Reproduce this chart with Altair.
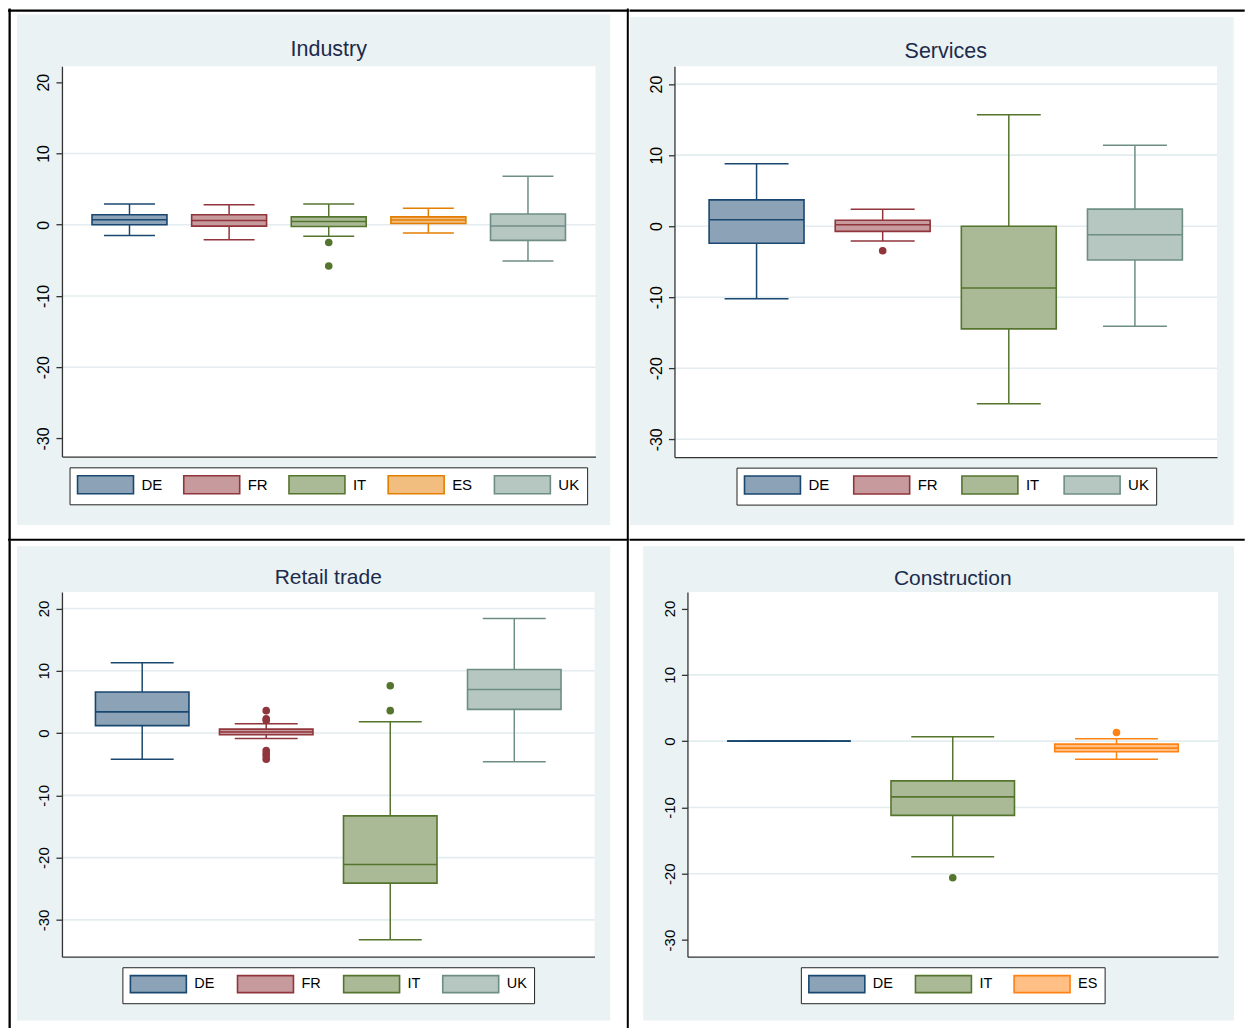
import altair as alt
import pandas as pd

# ---------------------------------------------------------------- data
TITLES = ["Industry", "Services", "Retail trade", "Construction"]

IND_COUNTRIES = ["DE", "FR", "IT", "ES", "UK"]
IND_LO = [-1.5, -2.1, -1.6, -1.15, -5.1]
IND_Q1 = [0.0, -0.2, -0.25, 0.17, -2.2]
IND_MED = [0.7, 0.6, 0.45, 0.67, -0.17]
IND_Q3 = [1.4, 1.4, 1.1, 1.1, 1.5]
IND_HI = [2.9, 2.8, 2.9, 2.3, 6.8]
IND_OUT_C = ["IT", "IT"]
IND_OUT_V = [-2.5, -5.8]

SRV_COUNTRIES = ["DE", "FR", "IT", "UK"]
SRV_LO = [-10.2, -2.1, -25.0, -14.1]
SRV_Q1 = [-2.4, -0.73, -14.45, -4.75]
SRV_MED = [0.9, 0.2, -8.7, -1.2]
SRV_Q3 = [3.7, 0.83, 0.0, 2.4]
SRV_HI = [8.8, 2.4, 15.7, 11.4]
SRV_OUT_C = ["FR"]
SRV_OUT_V = [-3.45]

RET_COUNTRIES = ["DE", "FR", "IT", "UK"]
RET_LO = [-4.2, -0.87, -33.2, -4.6]
RET_Q1 = [1.2, -0.27, -24.1, 3.8]
RET_MED = [3.4, 0.16, -21.1, 7.0]
RET_Q3 = [6.6, 0.64, -13.3, 10.2]
RET_HI = [11.3, 1.5, 1.8, 18.4]
RET_OUT_C = ["FR", "FR", "FR", "FR", "FR", "FR", "FR", "IT", "IT"]
RET_OUT_V = [3.6, 2.3, 2.0, -2.8, -3.3, -3.7, -4.2, 7.6, 3.6]

CON_COUNTRIES = ["DE", "IT", "ES"]
CON_LO = [0.0, -17.45, -2.75]
CON_Q1 = [0.0, -11.2, -1.6]
CON_MED = [0.0, -8.4, -1.05]
CON_Q3 = [0.0, -6.0, -0.45]
CON_HI = [0.0, 0.65, 0.35]
CON_OUT_C = ["IT", "ES"]
CON_OUT_V = [-20.6, 1.3]

Y_TICKS = [20, 10, 0, -10, -20, -30]
GRID_FULL = [20, 10, 0, -10, -20, -30]
GRID_INNER = [10, 0, -10, -20]

# ---------------------------------------------------------------- styles
FONT = "Liberation Sans, Arial, sans-serif"
PANEL_BG = "#eaf2f3"
GRID_COLOR = "#e3ecef"
TITLE_COLOR = "#1c2b4c"
AXIS_COLOR = "#333333"

LINE = {"DE": "#1a476f", "FR": "#90353b", "IT": "#55752f", "ES": "#e37e00", "UK": "#6e8e84"}
FILL = {"DE": "#8ca3b7", "FR": "#c79a9d", "IT": "#aaba97", "ES": "#f1be7f", "UK": "#b6c6c1"}
LINE_CON = dict(LINE, ES="#ff8214")
FILL_CON = dict(FILL, ES="#ffbf85")


def swatch_path(r, width):
    # wide rectangular legend key, left edge at -r, height 2r
    right = (width - r) / r
    return f"M-1,-1H{right:.4f}V1H-1Z"


def rect_layer(src, box, color):
    x0, x1, y0, y1 = box
    return alt.Chart(src).mark_rect(fill=color, strokeWidth=0).encode(
        x=alt.value(x0), x2=alt.value(x1), y=alt.value(y0), y2=alt.value(y1)
    )


def make_panel(title, countries, lo, q1, med, q3, hi, out_c, out_v, grid_vals,
               line_map, fill_map, g):
    w, h = g["w"], g["h"]
    stats = pd.DataFrame({"country": countries, "lo": lo, "q1": q1,
                          "med": med, "q3": q3, "hi": hi})
    stats["line"] = [line_map[c] for c in countries]
    outl = pd.DataFrame({"country": out_c, "value": out_v})
    outl["line"] = [line_map[c] for c in out_c]
    grid = pd.DataFrame({"v": grid_vals})
    one = pd.DataFrame({"t": [title]})

    lines = [line_map[c] for c in countries]
    fills = [fill_map[c] for c in countries]

    yscale = alt.Scale(domain=g["ydom"], nice=False, zero=False)
    yaxis = alt.Axis(
        title=None, values=Y_TICKS, grid=False, domain=True,
        domainColor=AXIS_COLOR, domainWidth=1.3, ticks=True, tickSize=6,
        tickColor=AXIS_COLOR, tickWidth=1.3, labelAngle=270,
        labelAlign="center", labelBaseline="alphabetic", labelPadding=7,
        labelExpr="'' + datum.value",
        labelFont=FONT, labelFontSize=g["afs"], labelColor="black",
        labelFlush=False, labelOverlap=False, zindex=1,
    )
    xenc = alt.X(
        "country:N", sort=countries,
        scale=alt.Scale(type="point", domain=countries, padding=g["pad"]),
        axis=alt.Axis(title=None, labels=False, ticks=False, grid=False,
                      domain=True, domainColor=AXIS_COLOR, domainWidth=1.3,
                      zindex=1),
    )
    # outline colours come straight from the table (identity scale, no legend)
    dark = alt.Color("line:N", scale=None)

    r = g["sym"] / 2
    legend = alt.Legend(
        title=None, orient="none", legendX=g["lx"], legendY=g["ly"],
        direction="horizontal", symbolType=swatch_path(r, 56),
        symbolSize=(2 * r) ** 2, symbolStrokeWidth=1.6, labelOffset=g["loff"],
        columnPadding=g["cp"], padding=7, strokeColor="#222222", fillColor="white",
        cornerRadius=0, labelFont=FONT, labelFontSize=g["lfs"],
        labelColor="black", labelLimit=200, zindex=2,
    )

    backdrop = [rect_layer(one, g["cell"], "white")]
    backdrop += [rect_layer(one, b, "black") for b in g["lines"]]
    backdrop += [rect_layer(one, g["bg"], PANEL_BG),
                 rect_layer(one, (0, w, 0, h), "white")]

    gridlines = alt.Chart(grid).mark_rule(color=GRID_COLOR, strokeWidth=1.6).encode(
        y=alt.Y("v:Q", scale=yscale, axis=yaxis), x=alt.value(0), x2=alt.value(w)
    )

    base = alt.Chart(stats)
    whisker = base.mark_rule(strokeWidth=1.5).encode(
        x=xenc, y=alt.Y("lo:Q", scale=yscale, axis=yaxis), y2="hi:Q", color=dark
    )
    cap_lo = base.mark_tick(size=g["cap"], thickness=1.5, opacity=1).encode(
        x=xenc, y=alt.Y("lo:Q", scale=yscale, axis=yaxis), color=dark
    )
    cap_hi = base.mark_tick(size=g["cap"], thickness=1.5, opacity=1).encode(
        x=xenc, y=alt.Y("hi:Q", scale=yscale, axis=yaxis), color=dark
    )
    box = base.mark_bar(size=g["box"], strokeWidth=1.6, opacity=1).encode(
        x=xenc, y=alt.Y("q1:Q", scale=yscale, axis=yaxis), y2="q3:Q",
        fill=alt.Fill("country:N", scale=alt.Scale(domain=countries, range=fills),
                      legend=legend),
        stroke=alt.Stroke("country:N", scale=alt.Scale(domain=countries, range=lines),
                          legend=legend),
    )
    median = base.mark_tick(size=g["box"], thickness=1.6, opacity=1).encode(
        x=xenc, y=alt.Y("med:Q", scale=yscale, axis=yaxis), color=dark
    )
    points = alt.Chart(outl).mark_circle(size=58, opacity=1).encode(
        x=xenc, y=alt.Y("value:Q", scale=yscale, axis=yaxis), color=dark
    )
    heading = alt.Chart(one).mark_text(
        font=FONT, fontSize=g["tfs"], color=TITLE_COLOR, align="center",
        baseline="alphabetic",
    ).encode(x=alt.value(w / 2), y=alt.value(g["ty"]), text="t:N")

    return alt.layer(
        *backdrop, gridlines, whisker, cap_lo, cap_hi, box, median, points, heading
    ).properties(width=w, height=h)


GEOM = {
    "ind": dict(w=534, h=390.5, ydom=[-32.54, 22.23], pad=0.678, box=75, cap=51,
                cell=(-54, 567.3, -58, 474.7),
                lines=[(-54, 567.3, -57, -54.7), (-53.5, -51.2, -58, 474.7),
                       (565.3, 567.3, -58, 474.7), (-54, 567.3, 472.7, 474.7)],
                bg=(-45, 548.7, -52, 459), ty=-10, tfs=21.5, afs=16,
                lx=7.6, ly=401.3, lfs=15, sym=18, loff=45, cp=17.3),
    "srv": dict(w=543, h=391, ydom=[-32.5, 22.5], pad=0.651, box=95, cap=64,
                cell=(-45, 570.7, -58, 474.7),
                lines=[(-45, 570.7, -57, -54.7), (-45, 570.7, 472.7, 474.7)],
                bg=(-44.3, 559.7, -49.3, 459), ty=-8.1, tfs=21.5, afs=16,
                lx=62.1, ly=401.6, lfs=15, sym=18, loff=45, cp=20.3),
    "ret": dict(w=533, h=365, ydom=[-35.9, 22.66], pad=0.647, box=93.6, cap=63,
                cell=(-54, 567.3, -51, 436.3),
                lines=[(-53.5, -51.2, -51, 436.3), (565.3, 567.3, -51, 436.3)],
                bg=(-45, 548.7, -45.7, 429), ty=-7.7, tfs=21, afs=15,
                lx=60.5, ly=375.6, lfs=14.5, sym=17, loff=46, cp=18.2),
    "con": dict(w=531, h=365, ydom=[-32.5, 22.5], pad=0.62, box=123.6, cap=83,
                cell=(-57.7, 558, -51, 436.3), lines=[],
                bg=(-44.3, 547, -45.7, 429), ty=-7.4, tfs=21, afs=15,
                lx=113.5, ly=375.6, lfs=14.5, sym=17, loff=46, cp=17.7),
}

p_ind = make_panel(TITLES[0], IND_COUNTRIES, IND_LO, IND_Q1, IND_MED, IND_Q3, IND_HI,
                   IND_OUT_C, IND_OUT_V, GRID_INNER, LINE, FILL, GEOM["ind"])
p_srv = make_panel(TITLES[1], SRV_COUNTRIES, SRV_LO, SRV_Q1, SRV_MED, SRV_Q3, SRV_HI,
                   SRV_OUT_C, SRV_OUT_V, GRID_FULL, LINE, FILL, GEOM["srv"])
p_ret = make_panel(TITLES[2], RET_COUNTRIES, RET_LO, RET_Q1, RET_MED, RET_Q3, RET_HI,
                   RET_OUT_C, RET_OUT_V, GRID_FULL, LINE, FILL, GEOM["ret"])
p_con = make_panel(TITLES[3], CON_COUNTRIES, CON_LO, CON_Q1, CON_MED, CON_Q3, CON_HI,
                   CON_OUT_C, CON_OUT_V, GRID_INNER, LINE_CON, FILL_CON, GEOM["con"])

indep = dict(x="independent", y="independent", fill="independent",
             stroke="independent")

top = alt.hconcat(p_ind, p_srv, spacing=0).resolve_scale(**indep)
bottom = alt.hconcat(p_ret, p_con, spacing=0).resolve_scale(**indep)

chart = (
    alt.vconcat(top, bottom, spacing=0)
    .resolve_scale(**indep)
    .properties(padding={"left": 8, "top": 8, "right": 0, "bottom": 0},
                background="white")
    .configure_view(stroke=None)
    .configure_concat(spacing=0)
)

chart.save("out.html", embed_options={"renderer": "svg", "actions": False})
